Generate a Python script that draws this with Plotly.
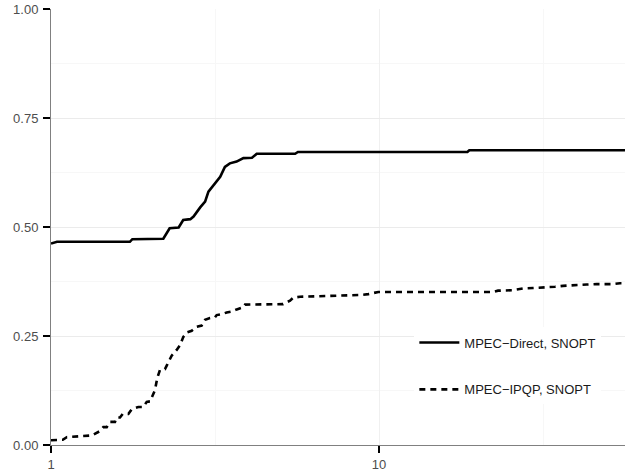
import plotly.graph_objects as go

# Performance-profile data (tau, fraction of problems)
direct_tau = [1.000, 1.043, 1.74, 1.77, 2.20, 2.30, 2.45, 2.53, 2.66, 2.72, 2.85, 2.95,
              3.02, 3.16, 3.28, 3.39, 3.51, 3.68, 3.86, 4.10, 4.24, 5.55, 5.66, 18.6,
              18.85, 56.23]
direct_val = [0.462, 0.466, 0.466, 0.472, 0.473, 0.497, 0.499, 0.516, 0.518, 0.524, 0.545,
              0.558, 0.581, 0.600, 0.615, 0.638, 0.646, 0.650, 0.658, 0.659, 0.668, 0.668,
              0.672, 0.672, 0.676, 0.676]

ipqp_tau = [1.000, 1.086, 1.117, 1.198, 1.249, 1.299, 1.331, 1.411, 1.444, 1.479, 1.513,
            1.567, 1.586, 1.623, 1.654, 1.721, 1.762, 1.846, 1.912, 1.958, 2.004, 2.075,
            2.109, 2.149, 2.226, 2.253, 2.333, 2.417, 2.474, 2.532, 2.593, 2.685, 2.781,
            2.880, 2.948, 3.053, 3.162, 3.200, 3.314, 3.433, 3.556, 3.684, 3.858, 3.905,
            5.096, 5.355, 5.480, 5.744, 6.749, 8.752, 9.277, 9.952, 22.26, 23.06, 25.62,
            27.54, 29.48, 32.52, 34.41, 36.39, 41.02, 42.99, 46.11, 51.70, 54.30, 56.23]
ipqp_val = [0.011, 0.012, 0.018, 0.020, 0.020, 0.021, 0.022, 0.032, 0.041, 0.041, 0.053,
            0.053, 0.063, 0.063, 0.071, 0.071, 0.082, 0.087, 0.087, 0.099, 0.100, 0.126,
            0.154, 0.172, 0.174, 0.182, 0.205, 0.218, 0.229, 0.248, 0.258, 0.262, 0.271,
            0.274, 0.287, 0.291, 0.293, 0.298, 0.300, 0.304, 0.306, 0.311, 0.316, 0.322,
            0.323, 0.331, 0.338, 0.340, 0.341, 0.344, 0.346, 0.351, 0.351, 0.354, 0.355,
            0.359, 0.360, 0.361, 0.363, 0.365, 0.366, 0.368, 0.369, 0.369, 0.371, 0.371]

series_names = ["MPEC\u2212Direct, SNOPT", "MPEC\u2212IPQP, SNOPT"]

x_tickvals = [1, 10]
x_ticktext = ["1", "10"]
x_minor = [3.1623, 31.623]
y_tickvals = [0, 0.25, 0.5, 0.75, 1.0]
y_ticktext = ["0.00", "0.25", "0.50", "0.75", "1.00"]
y_minor = [0.125, 0.375, 0.625, 0.875]

FONT = "Liberation Sans, Arial, Helvetica, sans-serif"

fig = go.Figure()
fig.add_trace(go.Scatter(x=direct_tau, y=direct_val, mode="lines", name=series_names[0],
                         legendgroup="a",
                         line=dict(color="black", width=2.6)))
fig.add_trace(go.Scatter(x=ipqp_tau, y=ipqp_val, mode="lines", name=series_names[1],
                         legendgroup="b",
                         line=dict(color="black", width=2.6, dash="6px,5px")))

fig.update_layout(
    width=625, height=473,
    margin=dict(l=51, r=0, t=9, b=28),
    paper_bgcolor="white", plot_bgcolor="white",
    font=dict(family=FONT, size=13, color="#4d4d4d"),
    showlegend=True,
    legend=dict(
        x=0.633, y=0.2695, xanchor="left", yanchor="top",
        bgcolor="white", borderwidth=0,
        font=dict(family=FONT, size=13, color="#1a1a1a"),
        traceorder="grouped", tracegroupgap=27,
        itemwidth=40,
    ),
    xaxis=dict(
        type="log", range=[0, 1.75], automargin=False,
        tickmode="array", tickvals=x_tickvals, ticktext=x_ticktext,
        showgrid=True, gridcolor="#f0f0f0", gridwidth=1,
        minor=dict(tickmode="array", tickvals=x_minor, showgrid=True,
                   gridcolor="#f7f7f7", ticklen=0),
        showline=True, linecolor="#808080", linewidth=1,
        ticks="outside", ticklen=7, tickwidth=2, tickcolor="black",
        zeroline=False, ticklabelstandoff=0, ticklabeloverflow="allow",
        tickfont=dict(family=FONT, size=13, color="#4d4d4d"),
    ),
    yaxis=dict(
        range=[0, 1], automargin=False,
        tickmode="array", tickvals=y_tickvals, ticktext=y_ticktext,
        showgrid=True, gridcolor="#ebebeb", gridwidth=1,
        minor=dict(tickmode="array", tickvals=y_minor, showgrid=True,
                   gridcolor="#f7f7f7", ticklen=0),
        showline=True, linecolor="#808080", linewidth=1,
        ticks="outside", ticklen=7, tickwidth=2, tickcolor="black",
        zeroline=False, ticklabelstandoff=2, ticklabeloverflow="allow",
        tickfont=dict(family=FONT, size=13, color="#4d4d4d"),
    ),
)

# Remove the browser's default 8px body margin so the figure sits at the page origin
fig.write_html("out.html", config={"displayModeBar": False},
               post_script="document.body.style.margin='0';")
